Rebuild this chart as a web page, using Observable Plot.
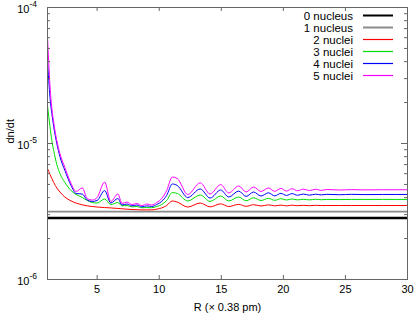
<!DOCTYPE html>
<html><head><meta charset="utf-8">
<script src="https://cdn.jsdelivr.net/npm/d3@7"></script>
<script src="https://cdn.jsdelivr.net/npm/@observablehq/plot@0.6"></script>
<style>
body{margin:0;background:#fff}
svg{font-family:"Liberation Sans",Arial,Helvetica,sans-serif}
</style>
</head><body><div id="chart"></div>
<script>
// R (x 0.38 pm)
const R = [1, 1.1, 1.2, 1.35, 1.5, 1.75, 2, 2.4, 2.9, 3.3, 3.8, 4.2, 4.6, 5.0, 5.6, 6.1, 6.67, 7.0, 7.4, 7.8, 8.2, 8.6, 9.0, 9.4, 9.8, 10.2, 10.6, 11.05, 11.45, 12.3, 13.3, 14.1, 14.95, 15.6, 16.4, 17.0, 17.6, 18.2, 18.8, 19.3, 19.8, 20.25, 20.7, 21.15, 21.6, 22.1, 22.6, 23.05, 23.5, 24.5, 25.5, 26.5, 28, 30];
// dn/dt values in units of 1e-6
const nuclei2 = [6.55, 6.23, 5.92, 5.53, 5.17, 4.71, 4.40, 4.04, 3.78, 3.65, 3.54, 3.48, 3.44, 3.41, 3.38, 3.36, 3.33, 3.31, 3.29, 3.27, 3.26, 3.25, 3.25, 3.25, 3.29, 3.36, 3.50, 3.78, 3.71, 3.41, 3.65, 3.42, 3.60, 3.44, 3.57, 3.45, 3.55, 3.47, 3.54, 3.48, 3.52, 3.48, 3.52, 3.49, 3.51, 3.49, 3.51, 3.50, 3.50, 3.50, 3.50, 3.50, 3.50, 3.50];
const nuclei3 = [19.0, 15.8, 13.3, 10.5, 8.88, 7.01, 6.02, 5.17, 4.51, 4.22, 4.01, 3.81, 3.68, 3.65, 3.91, 3.56, 3.68, 3.48, 3.50, 3.42, 3.44, 3.37, 3.38, 3.37, 3.44, 3.56, 3.81, 4.36, 4.29, 3.78, 4.18, 3.75, 4.11, 3.78, 4.04, 3.79, 3.99, 3.81, 3.95, 3.82, 3.93, 3.84, 3.91, 3.85, 3.89, 3.85, 3.89, 3.86, 3.88, 3.87, 3.88, 3.88, 3.88, 3.88];
const nuclei4 = [40.8, 29.1, 21.8, 16.6, 13.3, 10.0, 8.02, 6.33, 4.91, 4.29, 4.25, 3.84, 3.75, 3.81, 4.51, 3.65, 3.94, 3.53, 3.59, 3.48, 3.53, 3.42, 3.48, 3.44, 3.56, 3.75, 4.15, 5.04, 4.91, 4.01, 4.63, 3.97, 4.55, 4.04, 4.47, 4.08, 4.40, 4.11, 4.34, 4.12, 4.30, 4.15, 4.28, 4.16, 4.25, 4.17, 4.24, 4.19, 4.23, 4.20, 4.23, 4.21, 4.22, 4.22];
const nuclei5 = [60.2, 39.4, 26.7, 18.1, 14.3, 10.5, 8.44, 6.66, 5.08, 4.44, 4.71, 3.94, 3.84, 4.01, 5.21, 3.75, 4.25, 3.62, 3.71, 3.56, 3.62, 3.50, 3.59, 3.53, 3.68, 3.94, 4.51, 5.67, 5.53, 4.22, 5.14, 4.25, 4.99, 4.33, 4.87, 4.40, 4.79, 4.44, 4.71, 4.45, 4.67, 4.47, 4.65, 4.49, 4.62, 4.51, 4.61, 4.52, 4.59, 4.55, 4.58, 4.56, 4.57, 4.57];
const nuclei0 = 2.83; // flat
const nuclei1 = 3.16; // flat

const seriesNames = ["0 nucleus", "1 nucleus", "2 nuclei", "3 nuclei", "4 nuclei", "5 nuclei"];
const seriesColors = ["#000000", "#8a8a8a", "#ff0000", "#00dd00", "#0000ff", "#ff00ff"];
const seriesWidths = [2.5, 1.8, 1, 1, 1, 1];
const xTicks = [5, 10, 15, 20, 25, 30];
const yMajor = [1e-6, 1e-5, 1e-4];
const yMinorMult = [2, 3, 4, 5, 6, 7, 8, 9];
const yMinor = [1e-6, 1e-5].flatMap(d => yMinorMult.map(m => m * d));

const curves = [nuclei2, nuclei3, nuclei4, nuclei5];
const rows = curves.flatMap((arr, k) => arr.map((v, i) => ({R: R[i], v: v * 1e-6, s: seriesNames[k + 2]})));

const W = 415, H = 317, mL = 47, mR = 8, mT = 7, mB = 38;
const fw = W - mL - mR, fh = H - mT - mB;
const axisColor = "#666";

const chart = Plot.plot({
  width: W, height: H,
  marginLeft: mL, marginRight: mR, marginTop: mT, marginBottom: mB,
  style: {fontFamily: '"Liberation Sans", Arial, sans-serif', fontSize: "11px", background: "#fff", color: "#000"},
  x: {domain: [1, 30], axis: null},
  y: {type: "log", domain: [1e-6, 1e-4], axis: null},
  color: {domain: seriesNames, range: seriesColors},
  marks: [
    Plot.ruleY([nuclei0 * 1e-6], {stroke: seriesColors[0], strokeWidth: seriesWidths[0]}),
    Plot.ruleY([nuclei1 * 1e-6], {stroke: seriesColors[1], strokeWidth: seriesWidths[1]}),
    Plot.line(rows, {x: "R", y: "v", z: "s", stroke: "s", strokeWidth: 1, curve: "monotone-x"}),
    // inward ticks
    Plot.tickY(yMajor, {y: d => d, insetRight: fw - 6, stroke: axisColor}),
    Plot.tickY(yMajor, {y: d => d, insetLeft: fw - 6, stroke: axisColor}),
    Plot.tickY(yMinor, {y: d => d, insetRight: fw - 3, stroke: axisColor}),
    Plot.tickY(yMinor, {y: d => d, insetLeft: fw - 3, stroke: axisColor}),
    Plot.tickX(xTicks, {x: d => d, insetTop: fh - 4, stroke: axisColor}),
    Plot.tickX(xTicks, {x: d => d, insetBottom: fh - 4, stroke: axisColor}),
    Plot.frame({stroke: axisColor}),
    // tick labels
    Plot.text(xTicks, {x: d => d, frameAnchor: "bottom", dy: 13, text: d => String(d)}),
    Plot.text(yMajor, {y: d => d, frameAnchor: "left", dx: -18, dy: 2, textAnchor: "end", text: () => "10"}),
    Plot.text(yMajor, {y: d => d, frameAnchor: "left", dx: -18, dy: -3, textAnchor: "start", fontSize: 8.5, text: d => String(Math.round(Math.log10(d)))}),
    // axis titles
    Plot.text(["R (\u00d7 0.38 pm)"], {frameAnchor: "bottom", dy: 31, text: d => d}),
    Plot.text(["dn/dt"], {frameAnchor: "left", dx: -37, rotate: -90, text: d => d})
  ]
});
document.getElementById("chart").appendChild(chart);

// legend (top-right, inside frame)
const svg = d3.select(chart);
const lg = svg.append("g").attr("font-size", "11.5px");
seriesNames.forEach((name, i) => {
  const y = 15.5 + 12 * i;
  lg.append("text").attr("x", 353).attr("y", y).attr("dy", "0.35em").attr("text-anchor", "end").attr("fill", "#000").text(name);
  lg.append("line").attr("x1", 363).attr("x2", 393).attr("y1", y).attr("y2", y)
    .attr("stroke", seriesColors[i]).attr("stroke-width", i < 2 ? 2 : 1.2);
});
</script>
</body></html>
